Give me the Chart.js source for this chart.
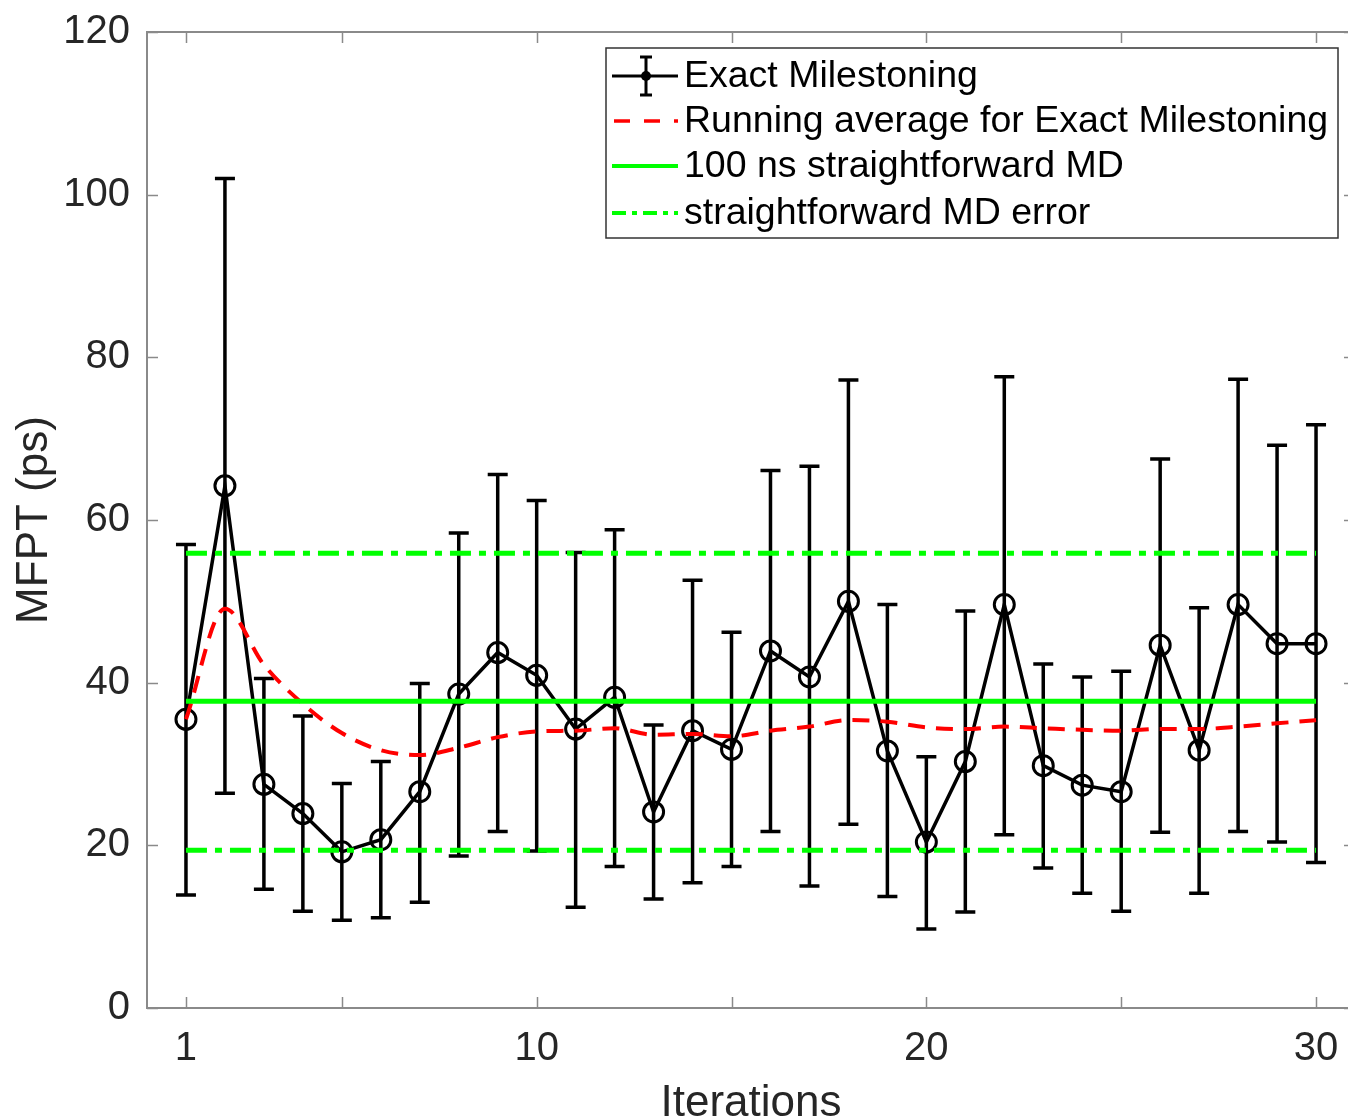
<!DOCTYPE html>
<html>
<head>
<meta charset="utf-8">
<script src="https://cdn.jsdelivr.net/npm/chart.js@4/dist/chart.umd.min.js"></script>
<style>
  html, body { margin: 0; padding: 0; background: #fff; overflow: hidden; }
  #wrap { width: 1368px; height: 1130px; }
</style>
</head>
<body>
<div id="wrap"><canvas id="mfpt_chart" width="1368" height="1130"></canvas></div>
<script>
// values
const iterations = [1, 2, 3, 4, 5, 6, 7, 8, 9, 10, 11, 12, 13, 14, 15,
    16, 17, 18, 19, 20, 21, 22, 23, 24, 25, 26, 27, 28, 29, 30];
const mfpt = [35.5, 64.2, 27.5, 23.9, 19.2, 20.7, 26.6, 38.6, 43.7, 40.9, 34.3, 38.2, 24.1, 34.1, 31.8,
    43.9, 40.7, 50.0, 31.6, 20.4, 30.3, 49.6, 29.8, 27.4, 26.6, 44.6, 31.7, 49.6, 44.8, 44.8];
const errLow = [13.9, 26.4, 14.6, 11.9, 10.8, 11.1, 13.0, 18.7, 21.7, 19.3, 12.4, 17.4, 13.4, 15.4, 17.4,
    21.7, 15.0, 22.6, 13.7, 9.7, 11.8, 21.3, 17.2, 14.1, 11.9, 21.6, 14.1, 21.7, 20.4, 17.9];
const errHigh = [57.0, 102.0, 40.5, 35.9, 27.6, 30.3, 39.9, 58.4, 65.6, 62.4, 56.0, 58.8, 34.8, 52.6, 46.2,
    66.1, 66.6, 77.2, 49.6, 30.9, 48.8, 77.6, 42.3, 40.7, 41.4, 67.5, 49.2, 77.3, 69.2, 71.7];
const runningAvg = [35.5, 49.1, 42.2, 37.4, 33.8, 31.7, 31.1, 32.0, 33.3, 34.0, 34.1, 34.4, 33.6, 33.7, 33.4,
    34.1, 34.6, 35.4, 35.2, 34.5, 34.3, 34.6, 34.4, 34.2, 34.1, 34.3, 34.3, 34.6, 35.0, 35.4];
const mdRange = [1, 30];
const mdMean = 37.7;
const mdUpper = 55.9;
const mdLower = 19.4;
const xTickValues = [1, 5, 10, 15, 20, 25, 30];
const xTickLabels = ['1', '', '10', '', '20', '', '30'];
const yTickValues = [0, 20, 40, 60, 80, 100, 120];
const legendLabels = ['Exact Milestoning', 'Running average for Exact Milestoning',
    '100 ns straightforward MD', 'straightforward MD error'];

const FONT = '"Liberation Sans", Arial, Helvetica, sans-serif';
const GREEN = 'rgb(0, 255, 0)';
const RED = 'rgb(255, 0, 0)';
const DASHDOT = [21, 8, 7, 8];

const points = (xs, ys) => xs.map((x, i) => ({x: x, y: ys[i]}));

// vertical error bars with caps, drawn under the lines
const errorBars = {
    id: 'errorBars',
    beforeDatasetsDraw(chart) {
        const {ctx, scales: {x, y}} = chart;
        ctx.save();
        ctx.strokeStyle = '#000';
        ctx.lineWidth = 3.5;
        iterations.forEach((it, i) => {
            const px = x.getPixelForValue(it);
            const top = y.getPixelForValue(errHigh[i]);
            const bot = y.getPixelForValue(errLow[i]);
            ctx.beginPath();
            ctx.moveTo(px, top); ctx.lineTo(px, bot);
            ctx.moveTo(px - 10, top); ctx.lineTo(px + 10, top);
            ctx.moveTo(px - 10, bot); ctx.lineTo(px + 10, bot);
            ctx.stroke();
        });
        ctx.restore();
    }
};

// matlab-like box with inward ticks, plus the legend box
const frameAndLegend = {
    id: 'frameAndLegend',
    afterDraw(chart) {
        const {ctx, chartArea: a, scales: {x, y}} = chart;
        ctx.save();
        ctx.strokeStyle = '#8a8a8a';
        ctx.lineWidth = 2;
        ctx.strokeRect(a.left, a.top, a.right - a.left, a.bottom - a.top);
        ctx.lineWidth = 1.5;
        ctx.beginPath();
        xTickValues.forEach((v) => {
            const px = Math.round(x.getPixelForValue(v)) + 0.5;
            ctx.moveTo(px, a.bottom); ctx.lineTo(px, a.bottom - 11);
            ctx.moveTo(px, a.top); ctx.lineTo(px, a.top + 11);
        });
        yTickValues.forEach((v) => {
            const py = Math.round(y.getPixelForValue(v)) + 0.5;
            ctx.moveTo(a.left, py); ctx.lineTo(a.left + 11, py);
            ctx.moveTo(a.right, py); ctx.lineTo(a.right - 11, py);
        });
        ctx.stroke();

        // legend
        const lx = 606, ly = 48, lw = 732, lh = 190;
        ctx.fillStyle = '#fff';
        ctx.fillRect(lx, ly, lw, lh);
        ctx.strokeStyle = '#333';
        ctx.lineWidth = 1.5;
        ctx.strokeRect(lx, ly, lw, lh);
        const rows = [76, 121, 166, 213];
        const s0 = 612, s1 = 678;
        // row 1: errorbar sample
        ctx.strokeStyle = '#000';
        ctx.lineWidth = 3;
        ctx.beginPath();
        ctx.moveTo(s0, rows[0]); ctx.lineTo(s1, rows[0]);
        ctx.moveTo(646, rows[0] - 19); ctx.lineTo(646, rows[0] + 19);
        ctx.moveTo(640, rows[0] - 19); ctx.lineTo(652, rows[0] - 19);
        ctx.moveTo(640, rows[0] + 19); ctx.lineTo(652, rows[0] + 19);
        ctx.stroke();
        ctx.beginPath();
        ctx.arc(646, rows[0], 5, 0, Math.PI * 2);
        ctx.fillStyle = '#000';
        ctx.fill();
        // row 2: red dashed
        ctx.strokeStyle = RED;
        ctx.lineWidth = 3.5;
        ctx.setLineDash([16, 14]);
        ctx.beginPath(); ctx.moveTo(s0 + 2, rows[1]); ctx.lineTo(s1, rows[1]); ctx.stroke();
        // row 3: green solid
        ctx.setLineDash([]);
        ctx.strokeStyle = GREEN;
        ctx.lineWidth = 4;
        ctx.beginPath(); ctx.moveTo(s0, rows[2]); ctx.lineTo(s1, rows[2]); ctx.stroke();
        // row 4: green dash-dot
        ctx.setLineDash([14, 6, 5, 6]);
        ctx.beginPath(); ctx.moveTo(s0, rows[3]); ctx.lineTo(s1, rows[3]); ctx.stroke();
        ctx.setLineDash([]);

        ctx.fillStyle = '#000';
        ctx.font = '37.5px ' + FONT;
        ctx.textBaseline = 'middle';
        ctx.textAlign = 'left';
        legendLabels.forEach((t, i) => ctx.fillText(t, 684, rows[i] + 1));
        ctx.restore();
    }
};

const ctx = document.getElementById('mfpt_chart').getContext('2d');

const mfptChart = new Chart(ctx, {
    type: 'line',
    data: {
        datasets: [
            {
                label: legendLabels[0],
                data: points(iterations, mfpt),
                borderColor: '#000',
                borderWidth: 3.5,
                pointStyle: 'circle',
                pointRadius: 10,
                pointBorderWidth: 3,
                pointBorderColor: '#000',
                pointBackgroundColor: 'rgba(0,0,0,0)',
                order: 4
            },
            {
                label: legendLabels[1],
                data: points(iterations, runningAvg),
                borderColor: RED,
                borderWidth: 4,
                borderDash: [17, 11],
                cubicInterpolationMode: 'monotone',
                pointRadius: 0,
                order: 3
            },
            {
                label: legendLabels[2],
                data: points(mdRange, [mdMean, mdMean]),
                borderColor: GREEN,
                borderWidth: 5,
                pointRadius: 0,
                order: 2
            },
            {
                label: legendLabels[3],
                data: points(mdRange, [mdUpper, mdUpper]),
                borderColor: GREEN,
                borderWidth: 5,
                borderDash: DASHDOT,
                pointRadius: 0,
                order: 1
            },
            {
                label: legendLabels[3] + ' (lower)',
                data: points(mdRange, [mdLower, mdLower]),
                borderColor: GREEN,
                borderWidth: 5,
                borderDash: DASHDOT,
                pointRadius: 0,
                order: 1
            }
        ]
    },
    options: {
        responsive: false,
        animation: false,
        devicePixelRatio: 1,
        layout: { padding: { top: 32, right: 7, left: 0, bottom: 0 } },
        plugins: { legend: { display: false }, tooltip: { enabled: false } },
        scales: {
            x: {
                type: 'linear',
                min: 0,
                max: 31,
                afterBuildTicks: (scale) => { scale.ticks = xTickValues.map((v) => ({value: v})); },
                afterFit: (scale) => {
                    scale.height = 122;
                    scale.paddingLeft = 0;
                    scale.paddingRight = 0;
                },
                grid: { display: false, drawTicks: false },
                border: { display: false },
                ticks: {
                    padding: 17,
                    color: '#262626',
                    font: { family: FONT, size: 40 },
                    maxRotation: 0,
                    autoSkip: false,
                    callback: (v) => xTickLabels[xTickValues.indexOf(v)]
                },
                title: {
                    display: true,
                    text: 'Iterations',
                    color: '#262626',
                    font: { family: FONT, size: 44 },
                    padding: { top: 0, bottom: 0 }
                }
            },
            y: {
                min: 0,
                max: 120,
                afterBuildTicks: (scale) => { scale.ticks = yTickValues.map((v) => ({value: v})); },
                afterFit: (scale) => {
                    scale.width = 147;
                    scale.paddingTop = 0;
                    scale.paddingBottom = 0;
                },
                grid: { display: false, drawTicks: false },
                border: { display: false },
                ticks: {
                    padding: 17,
                    color: '#262626',
                    font: { family: FONT, size: 40 }
                },
                title: {
                    display: true,
                    text: 'MFPT (ps)',
                    color: '#262626',
                    font: { family: FONT, size: 44 },
                    padding: { top: 8, bottom: 0 }
                }
            }
        }
    },
    plugins: [errorBars, frameAndLegend]
});
</script>
</body>
</html>
